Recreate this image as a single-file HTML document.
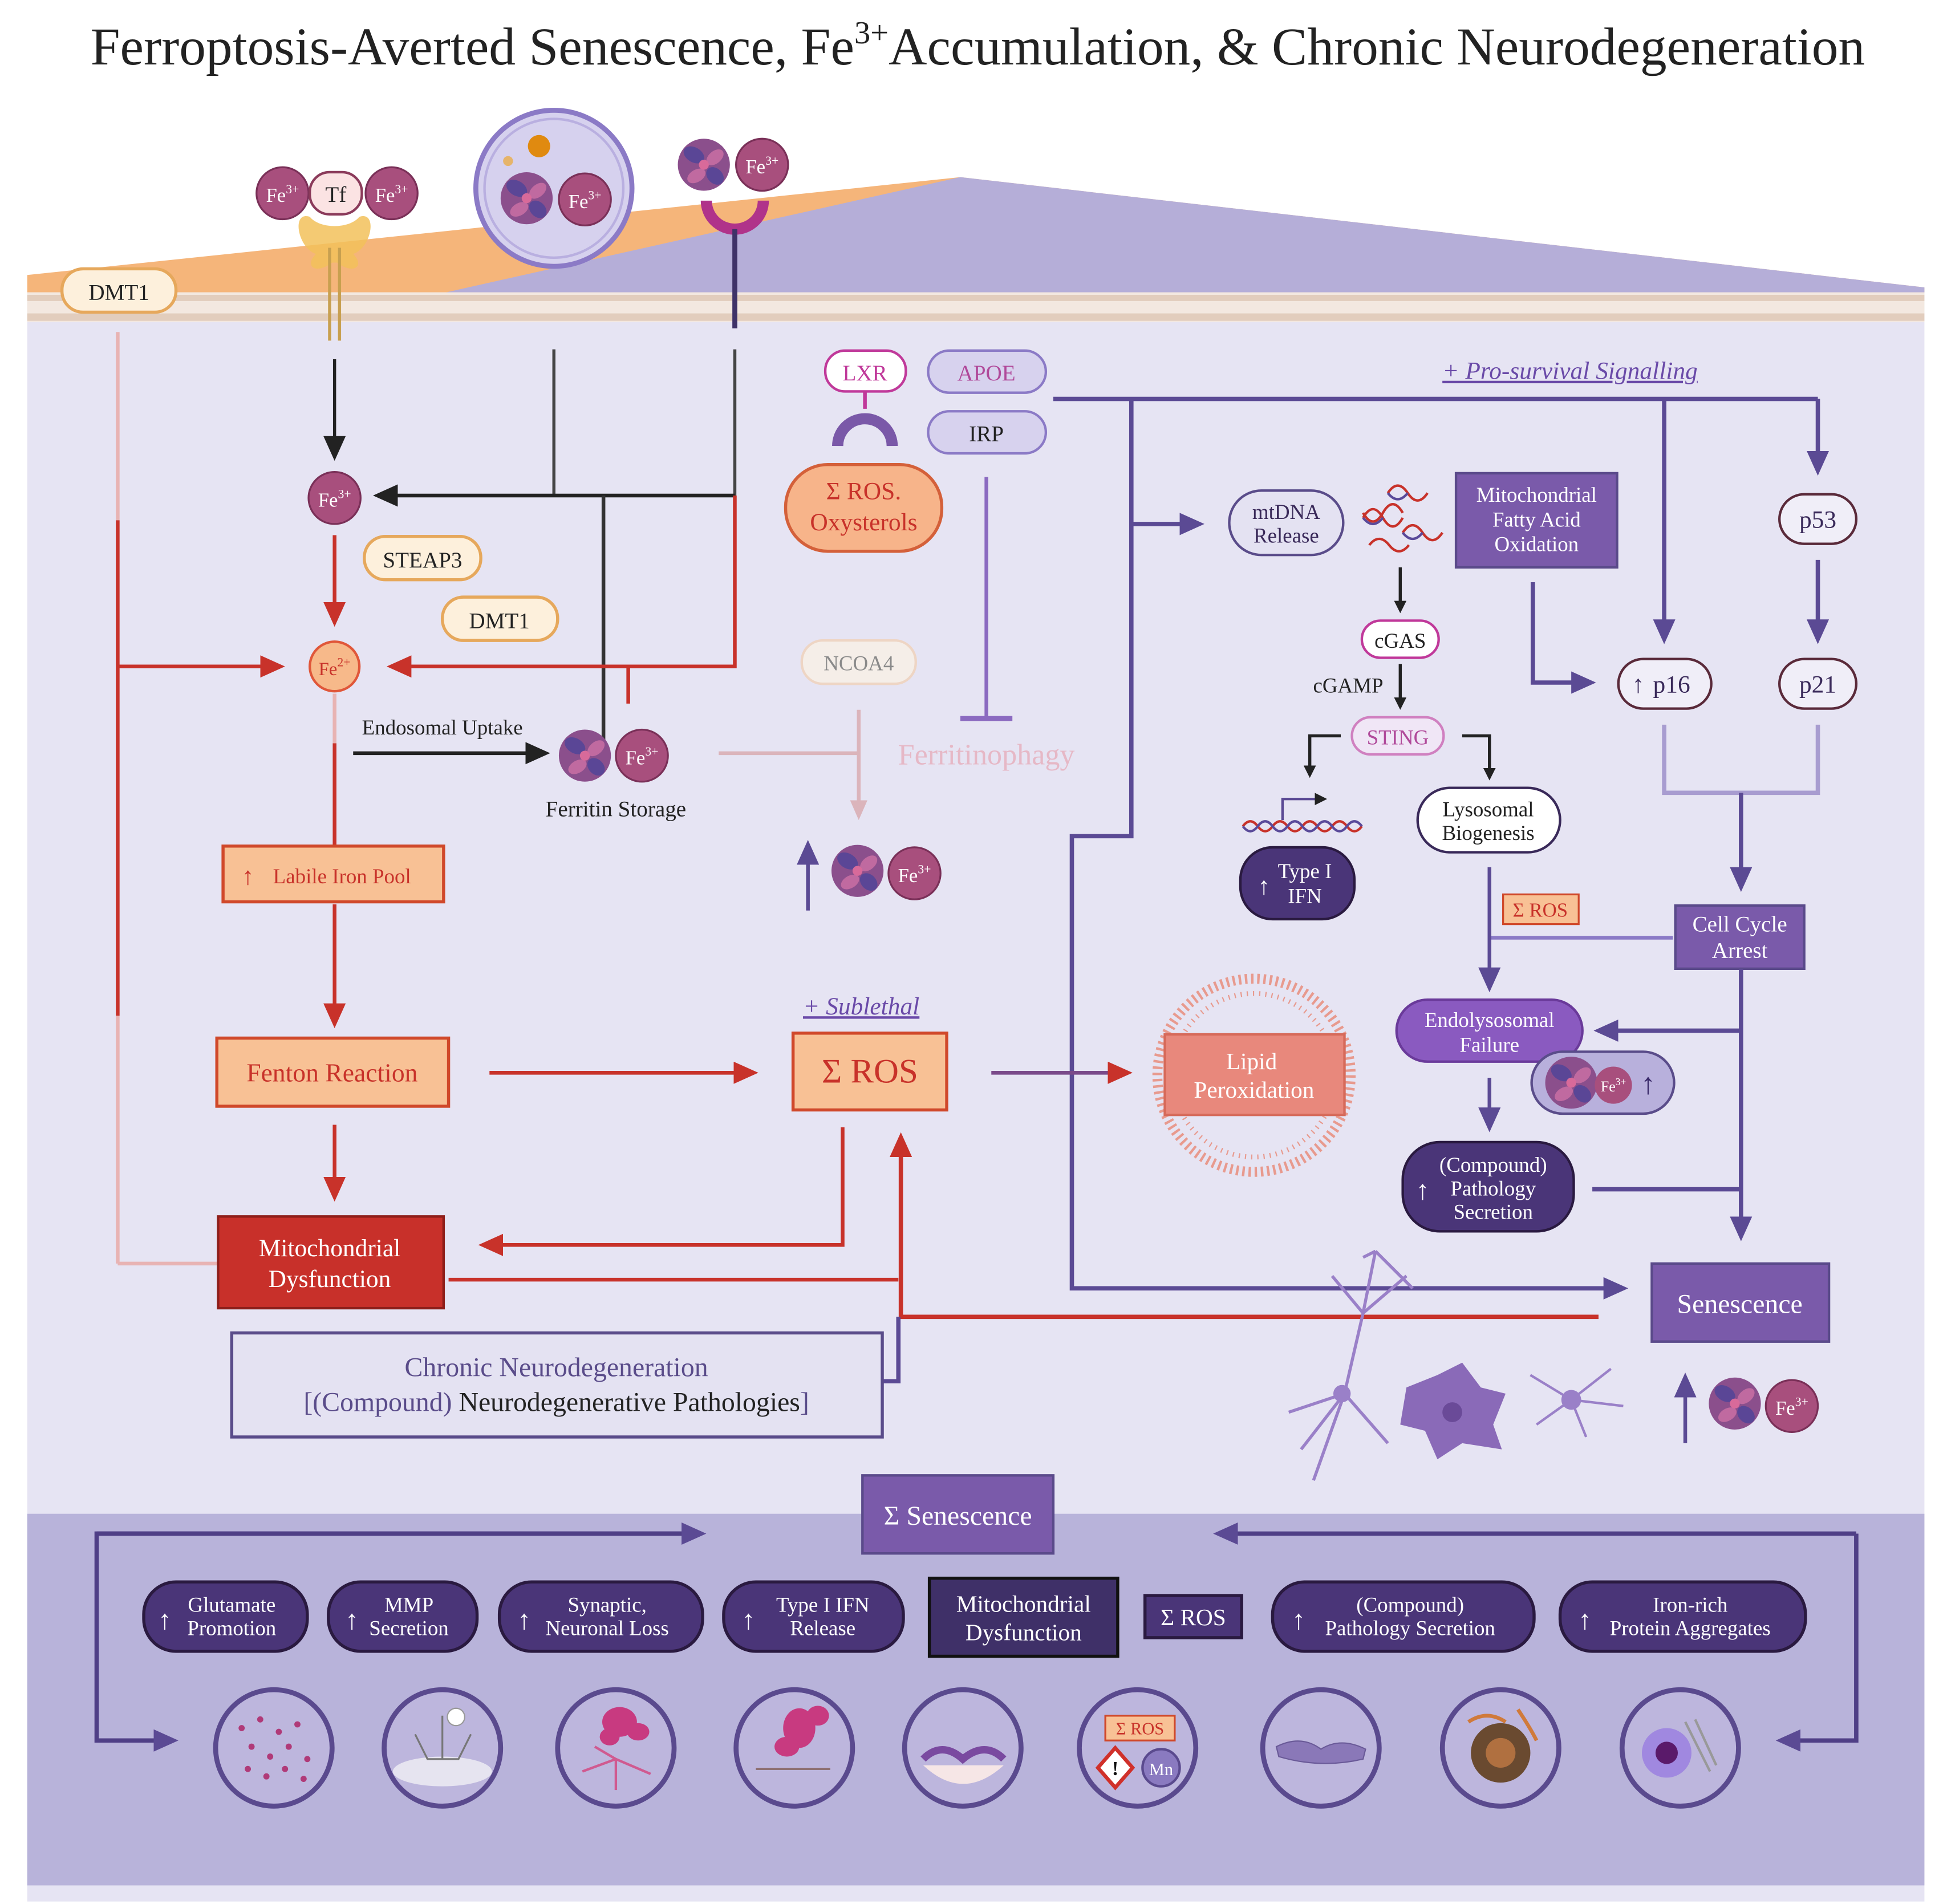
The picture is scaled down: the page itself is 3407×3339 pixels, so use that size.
<!DOCTYPE html>
<html><head><meta charset="utf-8">
<style>
html,body{margin:0;padding:0;background:#fff;}
svg{display:block;}
text{font-family:"Liberation Serif",serif;}
</style></head>
<body>
<svg xmlns="http://www.w3.org/2000/svg" width="3407" height="3339" viewBox="0 0 1568 1537" preserveAspectRatio="none">
<defs>
  <marker id="ak" markerWidth="10" markerHeight="10" refX="7" refY="5" orient="auto" markerUnits="userSpaceOnUse" viewBox="0 0 10 10"><path d="M0,0 L10,5 L0,10 z" fill="#222"/></marker>
  <marker id="ar" markerWidth="20" markerHeight="18" refX="16" refY="9" orient="auto" markerUnits="userSpaceOnUse"><path d="M0,0 L20,9 L0,18 z" fill="#c8322a"/></marker>
  <marker id="ap" markerWidth="20" markerHeight="18" refX="16" refY="9" orient="auto" markerUnits="userSpaceOnUse"><path d="M0,0 L20,9 L0,18 z" fill="#5b4a94"/></marker>
  <marker id="af" markerWidth="16" markerHeight="14" refX="12" refY="7" orient="auto" markerUnits="userSpaceOnUse"><path d="M0,0 L16,7 L0,14 z" fill="#dbb4bb"/></marker>
  <marker id="akb" markerWidth="20" markerHeight="18" refX="16" refY="9" orient="auto" markerUnits="userSpaceOnUse"><path d="M0,0 L20,9 L0,18 z" fill="#222"/></marker>
  <g id="fer">
    <circle r="21" fill="#8b4f8c"/>
    <ellipse cx="-8" cy="-8" rx="9" ry="6" fill="#5a4696" transform="rotate(30 -8 -8)"/>
    <ellipse cx="9" cy="-6" rx="8" ry="5" fill="#c06aa0" transform="rotate(-40 9 -6)"/>
    <ellipse cx="-6" cy="9" rx="8" ry="5" fill="#c06aa0" transform="rotate(-30 -6 9)"/>
    <ellipse cx="9" cy="9" rx="8" ry="6" fill="#5a4696" transform="rotate(45 9 9)"/>
    <circle r="4" fill="#d86a9a"/>
  </g>
  <g id="fe3"><circle r="21" fill="#a84f7d" stroke="#7a3058" stroke-width="1.5"/></g>
</defs>

<rect x="0" y="0" width="1568" height="1537" fill="#fff"/>
<rect x="22" y="235" width="1531" height="1300" fill="#e6e4f3"/>
<rect x="22" y="1222" width="1531" height="300" fill="#b8b3da"/>
<polygon points="22,222 775,143 1553,232 1553,236 22,236" fill="#f5b57a"/>
<polygon points="360,236 775,143 1553,232 1553,236" fill="#b5aed8"/>
<rect x="22" y="236" width="1531" height="24" fill="#f3e8e0"/>
<rect x="22" y="238" width="1531" height="5" fill="#e2cdbd"/>
<rect x="22" y="253" width="1531" height="6" fill="#e2cdbd"/>

<text x="789" y="52" text-anchor="middle" font-size="43" fill="#222">Ferroptosis-Averted Senescence, Fe<tspan font-size="26" dy="-17">3+</tspan><tspan dy="17">Accumulation, &amp; Chronic Neurodegeneration</tspan></text>

<rect x="50" y="217" width="92" height="35" rx="17" fill="#fdf0dc" stroke="#e6a85c" stroke-width="2.5"/>
<text x="96" y="242" text-anchor="middle" font-size="18" fill="#222">DMT1</text>

<path d="M250,175 C235,170 240,200 255,205 C245,215 255,222 268,212 L272,212 C285,222 295,215 285,205 C300,200 305,170 290,175 C282,185 258,185 250,175 z" fill="#f2c15a" opacity="0.85"/>
<line x1="266" y1="200" x2="266" y2="275" stroke="#c8a050" stroke-width="2.5"/>
<line x1="274" y1="200" x2="274" y2="275" stroke="#c8a050" stroke-width="2.5"/>
<use href="#fe3" x="228" y="156"/><text x="228" y="163" text-anchor="middle" font-size="16" fill="#fff">Fe<tspan font-size="10" dy="-7">3+</tspan></text>
<use href="#fe3" x="316" y="156"/><text x="316" y="163" text-anchor="middle" font-size="16" fill="#fff">Fe<tspan font-size="10" dy="-7">3+</tspan></text>
<rect x="250" y="139" width="42" height="34" rx="16" fill="#fbe3e3" stroke="#8b3b5b" stroke-width="2"/>
<text x="271" y="163" text-anchor="middle" font-size="18" fill="#222">Tf</text>

<circle cx="447" cy="152" r="63" fill="#d6d1ee" stroke="#8b7ac6" stroke-width="4"/>
<circle cx="447" cy="152" r="56" fill="none" stroke="#b9afe0" stroke-width="2"/>
<circle cx="435" cy="118" r="9" fill="#e08a10"/>
<circle cx="410" cy="130" r="4" fill="#e6b46a"/>
<use href="#fer" x="425" y="160"/>
<use href="#fe3" x="472" y="161"/><text x="472" y="168" text-anchor="middle" font-size="16" fill="#fff">Fe<tspan font-size="10" dy="-7">3+</tspan></text>

<use href="#fer" x="568" y="133"/>
<use href="#fe3" x="615" y="133"/><text x="615" y="140" text-anchor="middle" font-size="16" fill="#fff">Fe<tspan font-size="10" dy="-7">3+</tspan></text>
<path d="M570,162 A23,23 0 0 0 616,162" fill="none" stroke="#b0338a" stroke-width="9"/>
<line x1="593" y1="185" x2="593" y2="265" stroke="#3f3268" stroke-width="4"/>

<!-- left red line -->
<line x1="95" y1="268" x2="95" y2="420" stroke="#e8b3b3" stroke-width="3"/>
<line x1="95" y1="420" x2="95" y2="820" stroke="#c8322a" stroke-width="3"/>
<line x1="95" y1="820" x2="95" y2="1020" stroke="#e8b3b3" stroke-width="3"/>
<polyline points="95,1020 175,1020" fill="none" stroke="#e8b3b3" stroke-width="3"/>
<line x1="95" y1="538" x2="226" y2="538" stroke="#c8322a" stroke-width="3" marker-end="url(#ar)"/>

<line x1="270" y1="290" x2="270" y2="368" stroke="#222" stroke-width="2.5" marker-end="url(#akb)"/>
<line x1="447" y1="282" x2="447" y2="400" stroke="#444" stroke-width="2.5"/>
<line x1="593" y1="282" x2="593" y2="400" stroke="#444" stroke-width="2.5"/>
<line x1="593" y1="400" x2="305" y2="400" stroke="#222" stroke-width="3" marker-end="url(#akb)"/>
<line x1="487" y1="400" x2="487" y2="598" stroke="#333" stroke-width="3"/>

<use href="#fe3" x="270" y="402"/><text x="270" y="409" text-anchor="middle" font-size="16" fill="#fff">Fe<tspan font-size="10" dy="-7">3+</tspan></text>
<rect x="294" y="433" width="94" height="35" rx="17" fill="#fdf0dc" stroke="#e6a85c" stroke-width="2.5"/>
<text x="341" y="458" text-anchor="middle" font-size="18" fill="#222">STEAP3</text>
<rect x="357" y="482" width="93" height="35" rx="17" fill="#fdf0dc" stroke="#e6a85c" stroke-width="2.5"/>
<text x="403" y="507" text-anchor="middle" font-size="18" fill="#222">DMT1</text>
<line x1="270" y1="432" x2="270" y2="502" stroke="#c8322a" stroke-width="3" marker-end="url(#ar)"/>

<circle cx="270" cy="538" r="20" fill="#f7b98a" stroke="#e0573a" stroke-width="2"/>
<text x="270" y="545" text-anchor="middle" font-size="15" fill="#c8322a">Fe<tspan font-size="10" dy="-7">2+</tspan></text>
<polyline points="593,400 593,538 316,538" fill="none" stroke="#c8322a" stroke-width="3" marker-end="url(#ar)"/>
<line x1="507" y1="538" x2="507" y2="568" stroke="#c8322a" stroke-width="3"/>

<text x="357" y="593" text-anchor="middle" font-size="17" fill="#222">Endosomal Uptake</text>
<line x1="285" y1="608" x2="440" y2="608" stroke="#222" stroke-width="3" marker-end="url(#akb)"/>
<use href="#fer" x="472" y="610"/>
<use href="#fe3" x="518" y="610"/><text x="518" y="617" text-anchor="middle" font-size="16" fill="#fff">Fe<tspan font-size="10" dy="-7">3+</tspan></text>
<text x="497" y="659" text-anchor="middle" font-size="18" fill="#222">Ferritin Storage</text>

<line x1="270" y1="560" x2="270" y2="600" stroke="#e8b3b3" stroke-width="3"/>
<line x1="270" y1="600" x2="270" y2="683" stroke="#c8322a" stroke-width="3"/>
<rect x="180" y="683" width="178" height="45" fill="#f8c195" stroke="#d0482a" stroke-width="2.5"/>
<text x="276" y="713" text-anchor="middle" font-size="17" fill="#c8322a">Labile Iron Pool</text>
<text x="200" y="714" text-anchor="middle" font-size="20" fill="#c8322a">↑</text>
<line x1="270" y1="730" x2="270" y2="826" stroke="#c8322a" stroke-width="3" marker-end="url(#ar)"/>
<rect x="175" y="838" width="187" height="55" fill="#f8c195" stroke="#d0482a" stroke-width="2.5"/>
<text x="268" y="873" text-anchor="middle" font-size="21" fill="#c8322a">Fenton Reaction</text>
<line x1="270" y1="908" x2="270" y2="966" stroke="#c8322a" stroke-width="3" marker-end="url(#ar)"/>
<rect x="176" y="982" width="182" height="74" fill="#c8302a" stroke="#8e1e1a" stroke-width="2"/>
<text x="266" y="1014" text-anchor="middle" font-size="20" fill="#fff">Mitochondrial</text>
<text x="266" y="1039" text-anchor="middle" font-size="20" fill="#fff">Dysfunction</text>

<line x1="395" y1="866" x2="608" y2="866" stroke="#c8322a" stroke-width="3" marker-end="url(#ar)"/>
<text x="695" y="819" text-anchor="middle" font-size="20" font-style="italic" fill="#6a4aa8" text-decoration="underline">+ Sublethal</text>
<rect x="640" y="834" width="124" height="62" fill="#f8c195" stroke="#d0482a" stroke-width="2.5"/>
<text x="702" y="874" text-anchor="middle" font-size="28" fill="#c8322a">Σ ROS</text>
<polyline points="680,910 680,1005 390,1005" fill="none" stroke="#c8322a" stroke-width="3" marker-end="url(#ar)"/>
<line x1="362" y1="1033" x2="725" y2="1033" stroke="#c8322a" stroke-width="3"/>
<polyline points="1290,1063 727,1063 727,918" fill="none" stroke="#c8322a" stroke-width="3.5" marker-end="url(#ar)"/>
<polyline points="712,1115 725,1115 725,1063" fill="none" stroke="#5b4a94" stroke-width="3.5"/>

<rect x="187" y="1076" width="525" height="84" fill="#e4e2f2" stroke="#5a4c8a" stroke-width="2.5"/>
<text x="449" y="1111" text-anchor="middle" font-size="22" fill="#5a4c8a">Chronic Neurodegeneration</text>
<text x="449" y="1139" text-anchor="middle" font-size="22" fill="#5a4c8a">[(Compound) <tspan fill="#222">Neurodegenerative Pathologies</tspan>]</text>

<rect x="666" y="283" width="65" height="33" rx="16" fill="#fff" stroke="#c0399a" stroke-width="2"/>
<text x="698" y="307" text-anchor="middle" font-size="18" fill="#c0399a">LXR</text>
<line x1="698" y1="316" x2="698" y2="330" stroke="#c0399a" stroke-width="3"/>
<path d="M676,360 A22,22 0 0 1 720,360" fill="none" stroke="#7a58a8" stroke-width="9"/>
<rect x="749" y="283" width="95" height="34" rx="17" fill="#d7d2ee" stroke="#8b7ac6" stroke-width="2"/>
<text x="796" y="307" text-anchor="middle" font-size="18" fill="#b0499a">APOE</text>
<rect x="749" y="332" width="95" height="34" rx="17" fill="#d7d2ee" stroke="#8b7ac6" stroke-width="2"/>
<text x="796" y="356" text-anchor="middle" font-size="18" fill="#222">IRP</text>
<rect x="634" y="375" width="126" height="70" rx="34" fill="#f7b48a" stroke="#d4603a" stroke-width="2.5"/>
<text x="697" y="403" text-anchor="middle" font-size="20" fill="#c8322a">Σ ROS.</text>
<text x="697" y="428" text-anchor="middle" font-size="20" fill="#c8322a">Oxysterols</text>
<line x1="796" y1="385" x2="796" y2="580" stroke="#8b6ac0" stroke-width="3"/>
<line x1="775" y1="580" x2="817" y2="580" stroke="#8b6ac0" stroke-width="4"/>
<rect x="647" y="517" width="92" height="35" rx="17" fill="#f5eee8" stroke="#eed5c4" stroke-width="2"/>
<text x="693" y="541" text-anchor="middle" font-size="17" fill="#8a8a8a">NCOA4</text>
<line x1="693" y1="573" x2="693" y2="658" stroke="#dbb4bb" stroke-width="3" marker-end="url(#af)"/>
<line x1="580" y1="608" x2="693" y2="608" stroke="#dbb4bb" stroke-width="3"/>
<text x="796" y="617" text-anchor="middle" font-size="24" fill="#e6b8c6">Ferritinophagy</text>
<line x1="652" y1="735" x2="652" y2="682" stroke="#5b4a94" stroke-width="3" marker-end="url(#ap)"/>
<use href="#fer" x="692" y="703"/>
<use href="#fe3" x="738" y="705"/><text x="738" y="712" text-anchor="middle" font-size="16" fill="#fff">Fe<tspan font-size="10" dy="-7">3+</tspan></text>

<line x1="850" y1="322" x2="1467" y2="322" stroke="#5b4a94" stroke-width="3.5"/>
<line x1="1467" y1="322" x2="1467" y2="380" stroke="#5b4a94" stroke-width="3.5" marker-end="url(#ap)"/>
<line x1="1343" y1="322" x2="1343" y2="516" stroke="#5b4a94" stroke-width="3.5" marker-end="url(#ap)"/>
<polyline points="913,322 913,675 865,675 865,1040 1310,1040" fill="none" stroke="#5b4a94" stroke-width="3.5" marker-end="url(#ap)"/>
<line x1="913" y1="423" x2="968" y2="423" stroke="#5b4a94" stroke-width="3.5" marker-end="url(#ap)"/>
<text x="1267" y="306" text-anchor="middle" font-size="20" font-style="italic" fill="#6a4aa8" text-decoration="underline">+ Pro-survival Signalling</text>

<rect x="992" y="396" width="92" height="52" rx="26" fill="#e4e2f2" stroke="#5a4c8a" stroke-width="2"/>
<text x="1038" y="419" text-anchor="middle" font-size="17" fill="#3a2a5a">mtDNA</text>
<text x="1038" y="438" text-anchor="middle" font-size="17" fill="#3a2a5a">Release</text>
<path d="M1100,418 q8,-14 16,0 t16,0 M1100,414 q8,14 16,0 t16,0 M1120,398 q8,-12 16,0 t16,0 M1132,430 q8,-12 16,0 t16,0 M1105,440 q8,-10 16,0 t16,0" fill="none" stroke="#c8322a" stroke-width="2"/>
<path d="M1100,418 q8,10 16,0 M1120,398 q8,10 16,0 M1132,430 q8,10 16,0" fill="none" stroke="#5a4a9a" stroke-width="2"/>
<line x1="1130" y1="458" x2="1130" y2="492" stroke="#222" stroke-width="2.5" marker-end="url(#ak)"/>
<rect x="1099" y="501" width="62" height="30" rx="15" fill="#fff" stroke="#c0399a" stroke-width="2"/>
<text x="1130" y="523" text-anchor="middle" font-size="17" fill="#222">cGAS</text>
<text x="1088" y="559" text-anchor="middle" font-size="17" fill="#222">cGAMP</text>
<line x1="1130" y1="536" x2="1130" y2="570" stroke="#222" stroke-width="2.5" marker-end="url(#ak)"/>
<rect x="1091" y="579" width="74" height="30" rx="15" fill="#f0e6f6" stroke="#d080c0" stroke-width="2"/>
<text x="1128" y="601" text-anchor="middle" font-size="17" fill="#b0499a">STING</text>
<polyline points="1082,594 1057,594 1057,625" fill="none" stroke="#222" stroke-width="2.5" marker-end="url(#ak)"/>
<polyline points="1180,594 1202,594 1202,627" fill="none" stroke="#222" stroke-width="2.5" marker-end="url(#ak)"/>
<path d="M1003,667 q6,-8 12,0 t12,0 t12,0 t12,0 t12,0 t12,0 t12,0 t12,0" fill="none" stroke="#c8322a" stroke-width="2"/>
<path d="M1003,667 q6,8 12,0 t12,0 t12,0 t12,0 t12,0 t12,0 t12,0 t12,0" fill="none" stroke="#5a4a9a" stroke-width="2"/>
<polyline points="1035,662 1035,645 1068,645" fill="none" stroke="#5b4a94" stroke-width="2" marker-end="url(#ak)"/>
<rect x="1001" y="684" width="92" height="58" rx="26" fill="#4a3578" stroke="#2a1a40" stroke-width="2"/>
<text x="1053" y="709" text-anchor="middle" font-size="17" fill="#fff">Type I</text>
<text x="1053" y="729" text-anchor="middle" font-size="17" fill="#fff">IFN</text>
<text x="1020" y="722" text-anchor="middle" font-size="20" fill="#fff">↑</text>
<rect x="1144" y="636" width="115" height="52" rx="26" fill="#fff" stroke="#3a2a5a" stroke-width="2"/>
<text x="1201" y="659" text-anchor="middle" font-size="17" fill="#222">Lysosomal</text>
<text x="1201" y="678" text-anchor="middle" font-size="17" fill="#222">Biogenesis</text>

<rect x="1175" y="382" width="130" height="76" fill="#7a5aaa" stroke="#5a4a8a" stroke-width="2"/>
<text x="1240" y="405" text-anchor="middle" font-size="17" fill="#fff">Mitochondrial</text>
<text x="1240" y="425" text-anchor="middle" font-size="17" fill="#fff">Fatty Acid</text>
<text x="1240" y="445" text-anchor="middle" font-size="17" fill="#fff">Oxidation</text>
<polyline points="1237,470 1237,551 1284,551" fill="none" stroke="#5b4a94" stroke-width="3.5" marker-end="url(#ap)"/>

<rect x="1436" y="399" width="62" height="40" rx="20" fill="#f0eef8" stroke="#5a2a3a" stroke-width="2"/>
<text x="1467" y="426" text-anchor="middle" font-size="20" fill="#3a2a5a">p53</text>
<line x1="1467" y1="452" x2="1467" y2="516" stroke="#5b4a94" stroke-width="3.5" marker-end="url(#ap)"/>
<rect x="1306" y="532" width="75" height="40" rx="20" fill="#f0eef8" stroke="#5a2a3a" stroke-width="2"/>
<text x="1349" y="559" text-anchor="middle" font-size="20" fill="#3a2a5a">p16</text>
<text x="1322" y="559" text-anchor="middle" font-size="20" fill="#3a2a5a">↑</text>
<rect x="1436" y="532" width="62" height="40" rx="20" fill="#f0eef8" stroke="#5a2a3a" stroke-width="2"/>
<text x="1467" y="559" text-anchor="middle" font-size="20" fill="#3a2a5a">p21</text>
<polyline points="1343,585 1343,640 1467,640 1467,585" fill="none" stroke="#a89cd0" stroke-width="3.5"/>
<line x1="1405" y1="640" x2="1405" y2="716" stroke="#5b4a94" stroke-width="3.5" marker-end="url(#ap)"/>
<rect x="1352" y="731" width="104" height="51" fill="#7a5aaa" stroke="#5a4a8a" stroke-width="2"/>
<text x="1404" y="752" text-anchor="middle" font-size="18" fill="#fff">Cell Cycle</text>
<text x="1404" y="773" text-anchor="middle" font-size="18" fill="#fff">Arrest</text>

<line x1="1350" y1="757" x2="1202" y2="757" stroke="#8b7ac6" stroke-width="3"/>
<line x1="1202" y1="700" x2="1202" y2="797" stroke="#5b4a94" stroke-width="3" marker-end="url(#ap)"/>
<rect x="1213" y="722" width="61" height="24" fill="#f8c195" stroke="#d0482a" stroke-width="1.5"/>
<text x="1243" y="740" text-anchor="middle" font-size="16" fill="#c8322a">Σ ROS</text>

<line x1="1405" y1="782" x2="1405" y2="998" stroke="#5b4a94" stroke-width="3.5" marker-end="url(#ap)"/>
<line x1="1405" y1="832" x2="1290" y2="832" stroke="#5b4a94" stroke-width="3.5" marker-end="url(#ap)"/>
<rect x="1127" y="807" width="150" height="50" rx="25" fill="#8a5ac0" stroke="#6a3a9a" stroke-width="2"/>
<text x="1202" y="829" text-anchor="middle" font-size="17" fill="#fff">Endolysosomal</text>
<text x="1202" y="849" text-anchor="middle" font-size="17" fill="#fff">Failure</text>
<rect x="1236" y="849" width="115" height="50" rx="25" fill="#b8b0dc" stroke="#5a4c8a" stroke-width="2"/>
<use href="#fer" x="1268" y="874"/>
<circle cx="1302" cy="876" r="15" fill="#a84f7d"/><text x="1302" y="881" text-anchor="middle" font-size="12" fill="#fff">Fe<tspan font-size="8" dy="-5">3+</tspan></text>
<text x="1330" y="883" text-anchor="middle" font-size="24" fill="#3a2a6a">↑</text>
<line x1="1202" y1="870" x2="1202" y2="910" stroke="#5b4a94" stroke-width="3" marker-end="url(#ap)"/>
<rect x="1132" y="922" width="138" height="72" rx="30" fill="#4a3578" stroke="#2a1a40" stroke-width="2"/>
<text x="1205" y="946" text-anchor="middle" font-size="17" fill="#fff">(Compound)</text>
<text x="1205" y="965" text-anchor="middle" font-size="17" fill="#fff">Pathology</text>
<text x="1205" y="984" text-anchor="middle" font-size="17" fill="#fff">Secretion</text>
<text x="1148" y="968" text-anchor="middle" font-size="22" fill="#fff">↑</text>
<line x1="1285" y1="960" x2="1405" y2="960" stroke="#5b4a94" stroke-width="3.5"/>

<rect x="1333" y="1020" width="143" height="63" fill="#7a5aaa" stroke="#5a4a8a" stroke-width="2"/>
<text x="1404" y="1060" text-anchor="middle" font-size="22" fill="#fff">Senescence</text>

<circle cx="1012" cy="868" r="78" fill="none" stroke="#e89a8e" stroke-width="8" stroke-dasharray="2 3"/>
<circle cx="1012" cy="868" r="66" fill="none" stroke="#e89a8e" stroke-width="4" stroke-dasharray="1 4"/>
<rect x="940" y="835" width="145" height="65" fill="#e8887c" stroke="#d66a5a" stroke-width="2"/>
<text x="1010" y="863" text-anchor="middle" font-size="19" fill="#fff">Lipid</text>
<text x="1012" y="886" text-anchor="middle" font-size="19" fill="#fff">Peroxidation</text>
<line x1="800" y1="866" x2="910" y2="866" stroke="#7a4a8a" stroke-width="3" marker-end="url(#ar)"/>

<g stroke="#9a80c8" stroke-width="2.5" fill="none">
  <path d="M1060,1195 L1085,1125 L1100,1060 L1110,1010 M1100,1060 L1135,1030 M1100,1060 L1075,1030 M1085,1125 L1040,1140 M1085,1125 L1050,1170 M1085,1125 L1120,1165 M1110,1010 L1100,1015 M1110,1010 L1140,1040"/>
</g>
<circle cx="1083" cy="1125" r="7" fill="#9a80c8"/>
<path d="M1135,1120 L1160,1110 L1180,1100 L1195,1120 L1215,1125 L1205,1150 L1212,1170 L1180,1165 L1160,1178 L1150,1155 L1130,1150 z" fill="#8a6ab8"/>
<circle cx="1172" cy="1140" r="8" fill="#6a4a98"/>
<g stroke="#9a80c8" stroke-width="2" fill="none"><path d="M1268,1130 L1235,1110 M1268,1130 L1240,1150 M1268,1130 L1300,1105 M1268,1130 L1310,1135 M1268,1130 L1280,1160"/></g>
<circle cx="1268" cy="1130" r="8" fill="#9a80c8"/>
<line x1="1360" y1="1165" x2="1360" y2="1112" stroke="#5b4a94" stroke-width="3" marker-end="url(#ap)"/>
<use href="#fer" x="1400" y="1133"/>
<use href="#fe3" x="1446" y="1135"/><text x="1446" y="1142" text-anchor="middle" font-size="16" fill="#fff">Fe<tspan font-size="10" dy="-7">3+</tspan></text>

<polyline points="565,1238 78,1238 78,1405 140,1405" fill="none" stroke="#4f3f86" stroke-width="3.5" marker-end="url(#ap)"/>
<line x1="78" y1="1238" x2="566" y2="1238" stroke="#4f3f86" stroke-width="3.5" marker-end="url(#ap)"/>
<polyline points="1498,1238 1498,1405 1437,1405" fill="none" stroke="#4f3f86" stroke-width="3.5" marker-end="url(#ap)"/>
<line x1="1498" y1="1238" x2="983" y2="1238" stroke="#4f3f86" stroke-width="3.5" marker-end="url(#ap)"/>
<rect x="696" y="1191" width="154" height="63" fill="#7a5aaa" stroke="#5a4a8a" stroke-width="2"/>
<text x="773" y="1231" text-anchor="middle" font-size="22" fill="#fff">Σ Senescence</text>

<g font-size="17" fill="#fff" text-anchor="middle">
<rect x="116" y="1277" width="132" height="56" rx="26" fill="#4a3578" stroke="#2a1a40" stroke-width="2.5"/>
<text x="187" y="1301">Glutamate</text><text x="187" y="1320">Promotion</text><text x="133" y="1315" font-size="22">↑</text>
<rect x="265" y="1277" width="120" height="56" rx="26" fill="#4a3578" stroke="#2a1a40" stroke-width="2.5"/>
<text x="330" y="1301">MMP</text><text x="330" y="1320">Secretion</text><text x="284" y="1315" font-size="22">↑</text>
<rect x="403" y="1277" width="164" height="56" rx="26" fill="#4a3578" stroke="#2a1a40" stroke-width="2.5"/>
<text x="490" y="1301">Synaptic,</text><text x="490" y="1320">Neuronal Loss</text><text x="423" y="1315" font-size="22">↑</text>
<rect x="584" y="1277" width="145" height="56" rx="26" fill="#4a3578" stroke="#2a1a40" stroke-width="2.5"/>
<text x="664" y="1301">Type I IFN</text><text x="664" y="1320">Release</text><text x="604" y="1315" font-size="22">↑</text>
<rect x="750" y="1274" width="152" height="63" fill="#3f3068" stroke="#111" stroke-width="2.5"/>
<text x="826" y="1301" font-size="19">Mitochondrial</text><text x="826" y="1324" font-size="19">Dysfunction</text>
<rect x="924" y="1288" width="78" height="34" fill="#4a3578" stroke="#2a1a40" stroke-width="2.5"/>
<text x="963" y="1312" font-size="19">Σ ROS</text>
<rect x="1027" y="1277" width="211" height="56" rx="26" fill="#4a3578" stroke="#2a1a40" stroke-width="2.5"/>
<text x="1138" y="1301">(Compound)</text><text x="1138" y="1320">Pathology Secretion</text><text x="1048" y="1315" font-size="22">↑</text>
<rect x="1259" y="1277" width="198" height="56" rx="26" fill="#4a3578" stroke="#2a1a40" stroke-width="2.5"/>
<text x="1364" y="1301">Iron-rich</text><text x="1364" y="1320">Protein Aggregates</text><text x="1279" y="1315" font-size="22">↑</text>
</g>

<g fill="#bdb6dd" stroke="#5a4a8e" stroke-width="4">
<circle cx="221" cy="1411" r="47"/><circle cx="357" cy="1411" r="47"/><circle cx="497" cy="1411" r="47"/>
<circle cx="641" cy="1411" r="47"/><circle cx="777" cy="1411" r="47"/><circle cx="918" cy="1411" r="47"/>
<circle cx="1066" cy="1411" r="47"/><circle cx="1211" cy="1411" r="47"/><circle cx="1356" cy="1411" r="47"/>
</g>
<g fill="#b03a78">
<circle cx="195" cy="1395" r="2.5"/><circle cx="210" cy="1388" r="2.5"/><circle cx="225" cy="1398" r="2.5"/><circle cx="240" cy="1392" r="2.5"/><circle cx="203" cy="1410" r="2.5"/><circle cx="218" cy="1418" r="2.5"/><circle cx="233" cy="1410" r="2.5"/><circle cx="248" cy="1420" r="2.5"/><circle cx="200" cy="1428" r="2.5"/><circle cx="215" cy="1434" r="2.5"/><circle cx="230" cy="1428" r="2.5"/><circle cx="245" cy="1436" r="2.5"/>
</g>
<ellipse cx="357" cy="1430" rx="40" ry="12" fill="#e6e4f0"/>
<path d="M335,1400 L345,1420 L370,1420 L380,1400 M357,1385 L357,1420" stroke="#777" stroke-width="1.5" fill="none"/>
<circle cx="368" cy="1386" r="7" fill="#fff" stroke="#999"/>
<g fill="#c83a80"><ellipse cx="500" cy="1390" rx="14" ry="12"/><ellipse cx="515" cy="1398" rx="9" ry="7"/><ellipse cx="492" cy="1402" rx="8" ry="7"/></g>
<path d="M470,1430 L497,1420 L525,1432 M497,1420 L497,1445 M480,1410 L497,1420" stroke="#d05a90" stroke-width="2" fill="none"/>
<g fill="#c83a80"><ellipse cx="645" cy="1395" rx="13" ry="16"/><ellipse cx="660" cy="1385" rx="9" ry="8"/><ellipse cx="635" cy="1410" rx="10" ry="8"/></g>
<path d="M610,1428 L670,1428" stroke="#8a6a6a" stroke-width="1.5"/>
<path d="M745,1425 Q777,1455 810,1425 z" fill="#f6e6e6"/>
<path d="M745,1420 Q760,1405 777,1420 Q795,1405 810,1420" stroke="#7a4aa0" stroke-width="6" fill="none"/>
<rect x="892" y="1385" width="56" height="20" fill="#f8c195" stroke="#d0482a" stroke-width="1.5"/>
<text x="920" y="1400" text-anchor="middle" font-size="14" fill="#c8322a">Σ ROS</text>
<polygon points="900,1411 914,1427 900,1443 886,1427" fill="#fff" stroke="#d0302a" stroke-width="3"/>
<text x="900" y="1433" text-anchor="middle" font-size="16" font-weight="bold" fill="#111">!</text>
<circle cx="937" cy="1427" r="15" fill="#8a7ac0" stroke="#5a4a8e" stroke-width="2"/>
<text x="937" y="1433" text-anchor="middle" font-size="14" fill="#fff">Mn</text>
<path d="M1030,1410 Q1050,1400 1066,1412 Q1082,1402 1102,1412 L1100,1420 Q1066,1428 1032,1418 z" fill="#8a78b8" stroke="#6a5a98"/>
<circle cx="1211" cy="1415" r="24" fill="#6a4a30"/><circle cx="1211" cy="1415" r="12" fill="#b07040"/>
<path d="M1185,1390 Q1200,1380 1215,1390 M1225,1380 Q1235,1395 1240,1405" stroke="#d07a3a" stroke-width="3" fill="none"/>
<circle cx="1345" cy="1415" r="20" fill="#a088e0"/><circle cx="1345" cy="1415" r="9" fill="#5a1a6a"/>
<path d="M1360,1390 L1380,1430 M1368,1388 L1385,1425" stroke="#999" stroke-width="2"/>
</svg>
</body></html>
